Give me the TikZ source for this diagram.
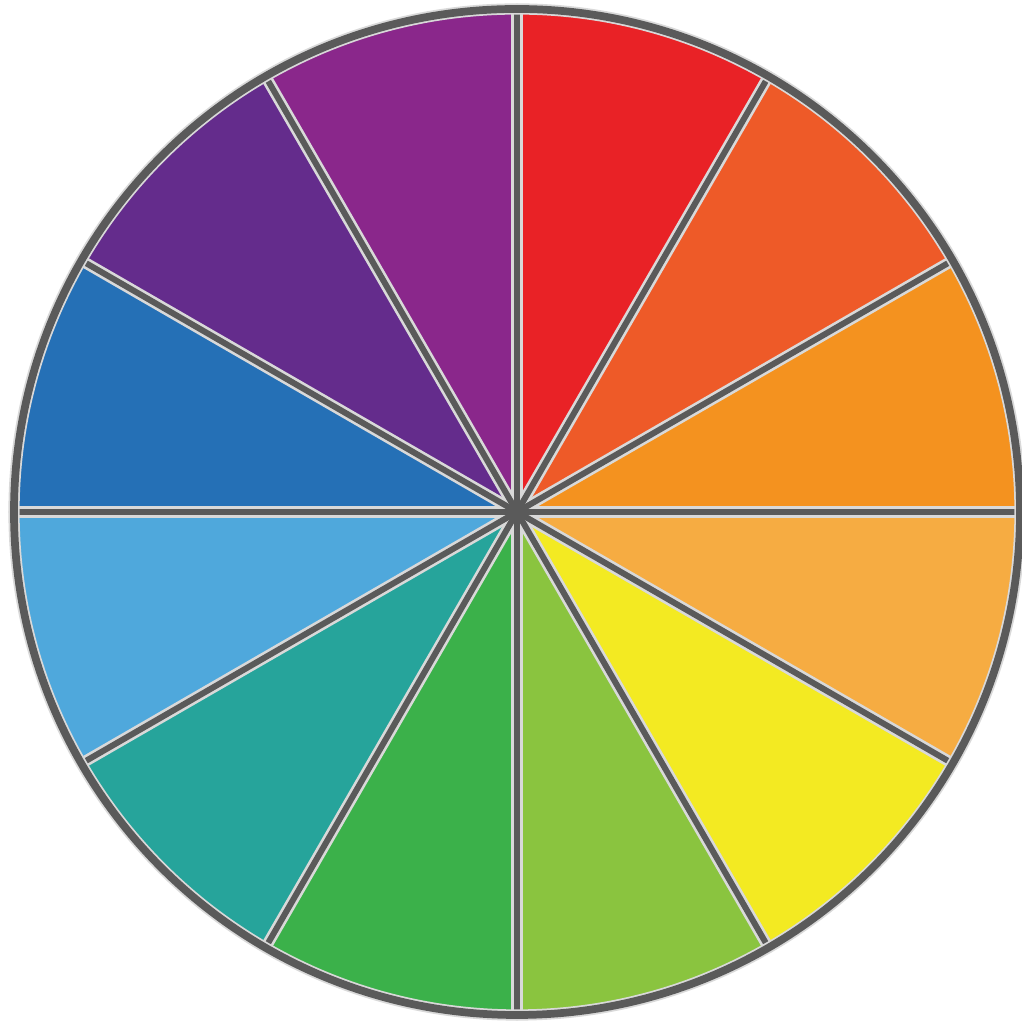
\documentclass[tikz,border=0pt]{standalone}
\usepackage{tikz}
\usetikzlibrary{positioning}
\definecolor{wRed}{HTML}{E92226}
\definecolor{wRedOrange}{HTML}{EE5A28}
\definecolor{wOrange}{HTML}{F4921F}
\definecolor{wLightOrange}{HTML}{F6AC42}
\definecolor{wYellow}{HTML}{F3EA22}
\definecolor{wYellowGreen}{HTML}{8AC43F}
\definecolor{wGreen}{HTML}{3BB14A}
\definecolor{wTeal}{HTML}{26A49B}
\definecolor{wSky}{HTML}{4FA8DC}
\definecolor{wBlue}{HTML}{2570B6}
\definecolor{wPurple}{HTML}{642C8C}
\definecolor{wViolet}{HTML}{8A278B}
\definecolor{pencil}{HTML}{5A5A5A}

\begin{document}
\begin{tikzpicture}
    \tikzstyle{halo}=[draw=white!85!black, line width=3.2pt, line cap=round]
    \tikzstyle{chalk}=[draw=pencil, line width=1.7pt, line cap=round]
    \useasboundingbox (0,0) rectangle (10.21,10.23);
    \coordinate (O) at (5.17,5.11) ;
    % wedges, clockwise from the top
    \foreach \c [count=\i] in {wRed, wRedOrange, wOrange, wLightOrange, wYellow, wYellowGreen, wGreen, wTeal, wSky, wBlue, wPurple, wViolet}
        \fill[\c] (O) -- ++({120-30*\i}:5.03) arc ({120-30*\i}:{90-30*\i}:5.03) -- cycle ;
    % spokes
    \foreach \a in {0,30,...,330}
        \draw[halo] (O) -- ++(\a:5.03) ;
    \foreach \a in {0,30,...,330}
        \draw[chalk] (O) -- ++(\a:5.03) ;
    % rim
    \draw[halo] (O) circle (5.03) ;
    \draw[chalk, line width=2.2pt] (O) circle (5.03) ;
    \fill[pencil] (O) circle (0.09) ;
\end{tikzpicture}
\end{document}
